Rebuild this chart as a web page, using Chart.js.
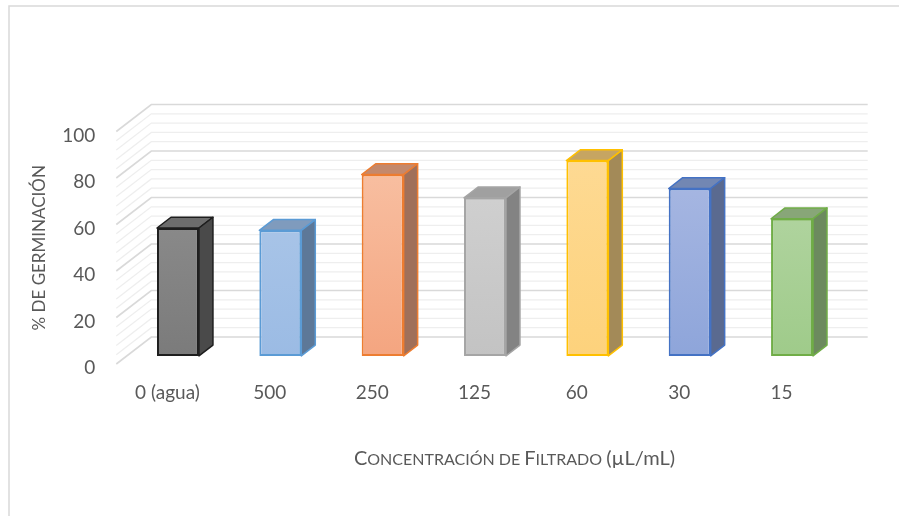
<!DOCTYPE html>
<html>
<head>
<meta charset="utf-8">
<script src="https://cdn.jsdelivr.net/npm/chart.js@4.4.1/dist/chart.umd.min.js"></script>
<style>
  html, body { margin: 0; padding: 0; background: #fff; }
  #wrap { width: 899px; height: 516px; }
</style>
</head>
<body>
<div id="wrap"><canvas id="germChart" width="899" height="516"></canvas></div>
<script>
// ================= DATA =================
const concentraciones = ["0 (agua)", "500", "250", "125", "60", "30", "15"];
const germinacion = [55, 54, 78, 68, 84, 72, 59];
const yTicks = [0, 20, 40, 60, 80, 100];
const minorStep = 4;

// ================= COLORS =================
const faceTop    = ["#949494", "#b2cbea", "#f9c5a9", "#d5d5d5", "#fedb97", "#aebce4", "#bad9ab"];
const faceBottom = ["#7b7b7b", "#9bbbe4", "#f4a580", "#c3c3c3", "#fdd27c", "#8ea5da", "#9fcb8a"];
const sideColor  = ["#4a4a4a", "#5d7898", "#a0705a", "#838383", "#a38a58", "#5a6a90", "#6c8a5e"];
const topColor   = ["#6d6d6d", "#7f9bbd", "#c4896c", "#a0a0a0", "#c6a562", "#7287b3", "#88a678"];
const edgeColor  = ["#1e1e1e", "#5b9bd5", "#ed7d31", "#a5a5a5", "#ffc000", "#4472c4", "#70ad47"];
const textColor = "#595959";

// ================= 3D GEOMETRY =================
const DEPTH_X = 35;   // floor depth, px to the right
const DEPTH_Y = 27;   // floor depth, px up
const BAR_FRONT = 0.3;
const BAR_BACK = 0.7;

// ================= PLUGINS =================
const frame = {
  id: "frame",
  beforeDraw(chart) {
    const ctx = chart.ctx;
    ctx.save();
    ctx.fillStyle = "#fff";
    ctx.fillRect(0, 0, chart.width, chart.height);
    ctx.strokeStyle = "#d9d9d9";
    ctx.lineWidth = 1.5;
    ctx.beginPath();
    ctx.moveTo(9, chart.height);
    ctx.lineTo(9, 6);
    ctx.lineTo(chart.width, 6);
    ctx.stroke();
    ctx.restore();
  }
};

const walls3d = {
  id: "walls3d",
  beforeDatasetsDraw(chart) {
    const ctx = chart.ctx;
    const area = chart.chartArea;
    const ys = chart.scales.y;
    const top = yTicks[yTicks.length - 1];

    ctx.save();
    // minor lines first, major on top
    [false, true].forEach(major => {
      ctx.strokeStyle = major ? "#d9d9d9" : "#eeeeee";
      ctx.lineWidth = major ? 1.6 : 1.2;
      for (let v = yTicks[0]; v <= top; v += minorStep) {
        const isMajor = yTicks.includes(v);
        if (isMajor !== major) continue;
        const y = ys.getPixelForValue(v);
        ctx.beginPath();
        ctx.moveTo(area.left, y);
        ctx.lineTo(area.left + DEPTH_X, y - DEPTH_Y);
        ctx.lineTo(area.right + DEPTH_X, y - DEPTH_Y);
        ctx.stroke();
      }
    });
    ctx.restore();

    // push the bars back into the floor
    ctx.save();
    ctx.translate(DEPTH_X * BAR_FRONT, -DEPTH_Y * BAR_FRONT);
  },
  afterDatasetsDraw(chart) {
    const ctx = chart.ctx;
    const dx = DEPTH_X * (BAR_BACK - BAR_FRONT);
    const dy = DEPTH_Y * (BAR_BACK - BAR_FRONT);
    const meta = chart.getDatasetMeta(0);

    ctx.lineWidth = 1.5;
    ctx.lineJoin = "round";
    meta.data.forEach((bar, i) => {
      const p = bar.getProps(["x", "y", "base", "width"], true);
      const l = p.x - p.width / 2;
      const r = p.x + p.width / 2;

      // top face
      ctx.beginPath();
      ctx.moveTo(l, p.y);
      ctx.lineTo(r, p.y);
      ctx.lineTo(r + dx, p.y - dy);
      ctx.lineTo(l + dx, p.y - dy);
      ctx.closePath();
      ctx.fillStyle = topColor[i];
      ctx.fill();
      ctx.strokeStyle = edgeColor[i];
      ctx.stroke();

      // side face
      ctx.beginPath();
      ctx.moveTo(r, p.y);
      ctx.lineTo(r + dx, p.y - dy);
      ctx.lineTo(r + dx, p.base - dy);
      ctx.lineTo(r, p.base);
      ctx.closePath();
      ctx.fillStyle = sideColor[i];
      ctx.fill();
      ctx.stroke();
    });
    ctx.restore();
  }
};

const smallCapsTitle = {
  id: "smallCapsTitle",
  afterDraw(chart) {
    const ctx = chart.ctx;
    const area = chart.chartArea;
    const big = "20px Lato";
    const small = "16px Lato";
    const parts = [
      ["C", big], ["ONCENTRACIÓN DE ", small],
      ["F", big], ["ILTRADO ", small],
      ["(µL/mL)", big]
    ];
    ctx.save();
    let total = 0;
    parts.forEach(([t, f]) => { ctx.font = f; total += ctx.measureText(t).width; });
    let x = (area.left + area.right) / 2 + 40 - total / 2;
    const y = area.bottom + 101;
    ctx.fillStyle = textColor;
    ctx.textBaseline = "alphabetic";
    parts.forEach(([t, f]) => {
      ctx.font = f;
      ctx.fillText(t, x, y);
      x += ctx.measureText(t).width;
    });
    ctx.restore();
  }
};

// ================= CHART =================
const ctx = document.getElementById("germChart").getContext("2d");

const germChart = new Chart(ctx, {
  type: "bar",
  data: {
    labels: concentraciones,
    datasets: [{
      label: "% de germinación",
      data: germinacion,
      backgroundColor: (c) => {
        const area = c.chart.chartArea;
        if (!area) return faceTop[c.dataIndex];
        const g = c.chart.ctx.createLinearGradient(0, area.top, 0, area.bottom);
        g.addColorStop(0, faceTop[c.dataIndex]);
        g.addColorStop(1, faceBottom[c.dataIndex]);
        return g;
      },
      borderColor: edgeColor,
      borderWidth: 2,
      borderSkipped: false,
      barPercentage: 0.41,
      categoryPercentage: 1,
      clip: false
    }]
  },
  options: {
    responsive: false,
    animation: false,
    layout: {
      padding: { left: 0, top: 131.5, right: 66.3, bottom: 0 }
    },
    plugins: {
      legend: { display: false },
      tooltip: { enabled: false }
    },
    scales: {
      x: {
        grid: { display: false, drawTicks: false },
        border: { display: false },
        ticks: {
          color: textColor,
          font: { family: "Lato", size: 19 },
          padding: 17,
          maxRotation: 0,
          autoSkip: false
        },
        afterFit: (s) => { s.height = 152; }
      },
      y: {
        min: yTicks[0],
        max: yTicks[yTicks.length - 1],
        grid: { display: false, drawTicks: false },
        border: { display: false },
        ticks: {
          stepSize: yTicks[1] - yTicks[0],
          color: textColor,
          font: { family: "Lato", size: 19 },
          padding: 21,
          labelOffset: 4
        },
        title: {
          display: true,
          text: "% DE GERMINACIÓN",
          color: textColor,
          font: { family: "Lato", size: 17 },
          padding: { top: 29, bottom: 0 }
        },
        afterFit: (s) => { s.width = 116.3; }
      }
    }
  },
  plugins: [frame, walls3d, smallCapsTitle]
});
</script>
</body>
</html>
